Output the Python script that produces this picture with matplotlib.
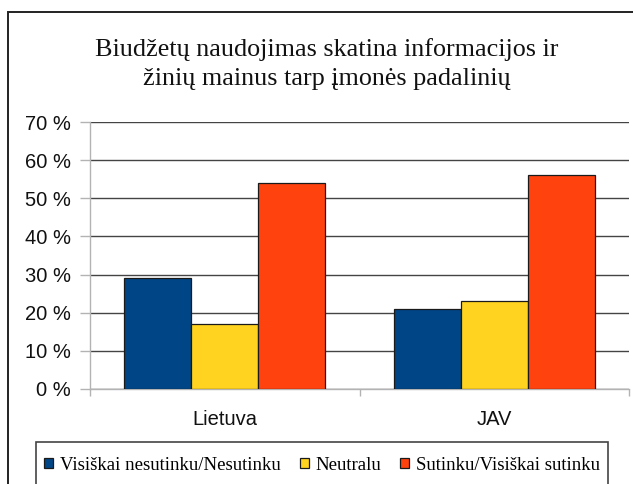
import matplotlib
matplotlib.use("Agg")
import matplotlib.pyplot as plt
from matplotlib.patches import Rectangle
from matplotlib.ticker import FixedLocator, FuncFormatter
import numpy as np

# Chart data
categories = ["Lietuva", "JAV"]
series_names = ["Visiškai nesutinku/Nesutinku", "Neutralu", "Sutinku/Visiškai sutinku"]
disagree = [29, 21]
neutral = [17, 23]
agree = [54, 56]
colors = ["#004586", "#ffd320", "#ff420e"]
title = "Biudžetų naudojimas skatina informacijos ir\nžinių mainus tarp įmonės padalinių"

W, H = 633, 484
fig = plt.figure(figsize=(W / 100, H / 100), dpi=100)

# outer frame of the chart
fig.patches.append(Rectangle((8 / W, -0.05), 1.0, 1 - 12 / H + 0.05,
                             transform=fig.transFigure, fill=False,
                             edgecolor="#222222", linewidth=1.4))

ax = fig.add_axes([90 / W, 1 - 389 / H, (629 - 90) / W, (389 - 122) / H])

x = np.arange(len(categories))
bar_w = 0.248
offsets = [-bar_w, 0, bar_w]
for name, vals, off, c in zip(series_names, [disagree, neutral, agree], offsets, colors):
    ax.bar(x + off, vals, width=bar_w, color=c, edgecolor="#1a1a1a",
           linewidth=0.9, label=name, zorder=3)

ax.set_xlim(-0.5, 1.5)
ax.set_ylim(0, 70)
ax.set_yticks(np.arange(0, 71, 10))
ax.yaxis.set_major_formatter(FuncFormatter(lambda v, p: f"{int(v)} %"))
ax.grid(axis="y", color="#444444", linewidth=1.0, zorder=0)
ax.set_axisbelow(True)

ax.set_xticks(x)
ax.set_xticklabels(categories)
ax.xaxis.set_minor_locator(FixedLocator([-0.5, 0.5, 1.5]))
ax.tick_params(axis="x", which="major", length=0, pad=15, labelsize=14.5,
               labelcolor="#111111")
ax.tick_params(axis="x", which="minor", length=5, color="#b3b3b3", width=1)
ax.tick_params(axis="y", length=7, color="#b3b3b3", width=1, pad=7,
               labelsize=14.5, labelcolor="#111111")
for lab in ax.get_xticklabels() + ax.get_yticklabels():
    lab.set_fontfamily("Liberation Sans")

for s in ["top", "right"]:
    ax.spines[s].set_visible(False)
for s in ["left", "bottom"]:
    ax.spines[s].set_color("#b3b3b3")
    ax.spines[s].set_linewidth(1)

fig.text(327 / W, 1 - 64 / H, title, ha="center", va="center",
         fontfamily="Liberation Serif", fontsize=18.8, linespacing=1.38,
         color="#111111")

# legend box
fig.patches.append(Rectangle((36 / W, -0.05), (608 - 36) / W, 0.05 + 1 - 442 / H,
                             transform=fig.transFigure, fill=False,
                             edgecolor="#444444", linewidth=1.2))
leg = fig.legend(loc="center", bbox_to_anchor=(322 / W, 1 - 465 / H),
                 ncol=3, frameon=False, handlelength=0.5, handleheight=0.5,
                 handletextpad=0.35, columnspacing=1.0,
                 prop={"family": "Liberation Serif", "size": 13.5})

fig.savefig("out.png", dpi=100)
